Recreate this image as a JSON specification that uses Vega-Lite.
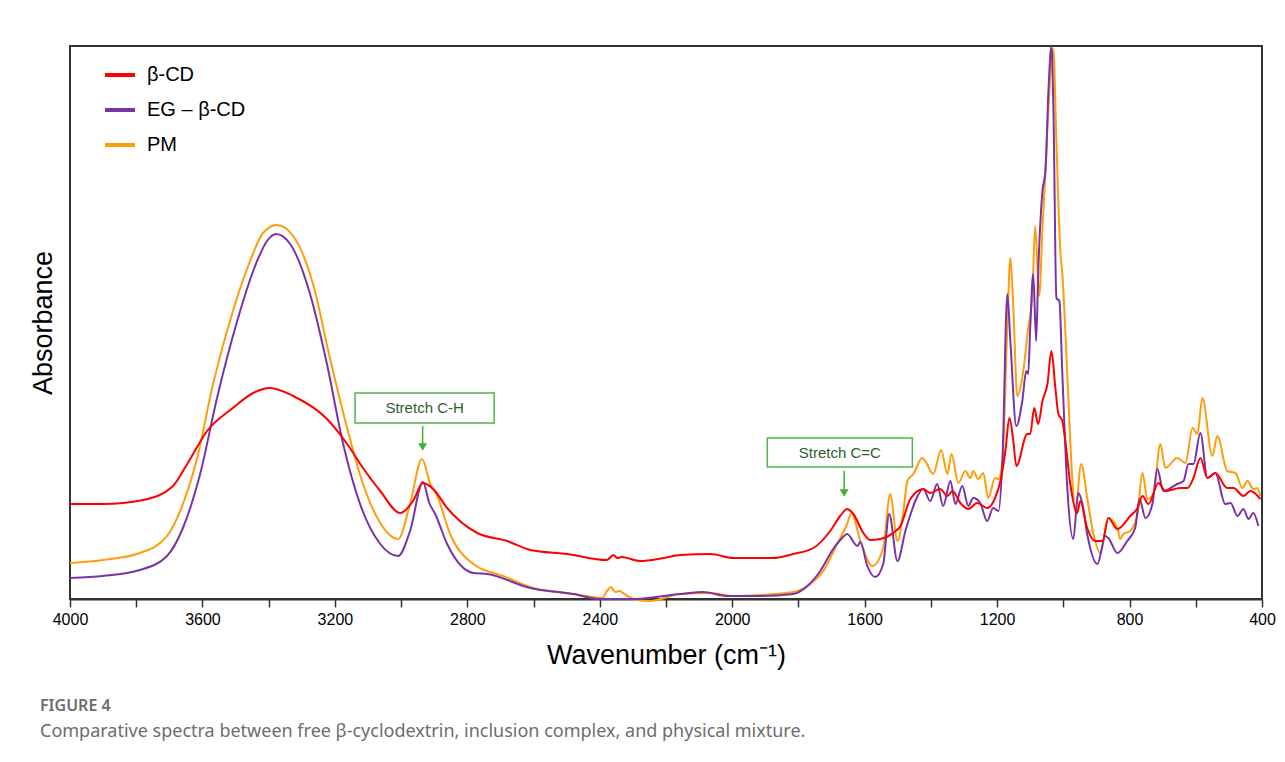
{
"$schema": "https://vega.github.io/schema/vega-lite/v6.json",
"width": 1192, "height": 553,
"padding": {"left": 29, "top": 42, "right": 22, "bottom": 10},
"background": "white",
"config": {"view": {"stroke": "#333333", "strokeWidth": 2}, "font": "Liberation Sans"},
"title": {"text": "FIGURE 4", "subtitle": "Comparative spectra between free β-cyclodextrin, inclusion complex, and physical mixture.", "orient": "bottom", "anchor": "start", "frame": "bounds", "font": "Noto Sans", "fontSize": 16, "fontWeight": 600, "color": "#6d6d6d", "subtitleFont": "Noto Sans", "subtitleFontSize": 18, "subtitleColor": "#6d6d6d", "subtitlePadding": 9, "offset": 30, "dx": 11},
"datasets": {
"spectra": [
{"sample":"PM","wavenumber":4000,"absorbance":36},{"sample":"PM","wavenumber":3900,"absorbance":39},{"sample":"PM","wavenumber":3789,"absorbance":46},{"sample":"PM","wavenumber":3707,"absorbance":63},{"sample":"PM","wavenumber":3659,"absorbance":95},{"sample":"PM","wavenumber":3616,"absorbance":141},{"sample":"PM","wavenumber":3568,"absorbance":215},{"sample":"PM","wavenumber":3508,"absorbance":288},{"sample":"PM","wavenumber":3456,"absorbance":338},{"sample":"PM","wavenumber":3417,"absorbance":366},{"sample":"PM","wavenumber":3375,"absorbance":374},{"sample":"PM","wavenumber":3326,"absorbance":363},{"sample":"PM","wavenumber":3266,"absorbance":315},{"sample":"PM","wavenumber":3215,"absorbance":241},{"sample":"PM","wavenumber":3163,"absorbance":171},{"sample":"PM","wavenumber":3115,"absorbance":115},{"sample":"PM","wavenumber":3063,"absorbance":76},{"sample":"PM","wavenumber":3009,"absorbance":60},{"sample":"PM","wavenumber":2973,"absorbance":95},{"sample":"PM","wavenumber":2937,"absorbance":140},{"sample":"PM","wavenumber":2912,"absorbance":115},{"sample":"PM","wavenumber":2891,"absorbance":103},{"sample":"PM","wavenumber":2852,"absorbance":65},{"sample":"PM","wavenumber":2782,"absorbance":35},{"sample":"PM","wavenumber":2692,"absorbance":23},{"sample":"PM","wavenumber":2601,"absorbance":11},{"sample":"PM","wavenumber":2480,"absorbance":5},{"sample":"PM","wavenumber":2393,"absorbance":1},{"sample":"PM","wavenumber":2378,"absorbance":8},{"sample":"PM","wavenumber":2366,"absorbance":12},{"sample":"PM","wavenumber":2354,"absorbance":7},{"sample":"PM","wavenumber":2341,"absorbance":8},{"sample":"PM","wavenumber":2317,"absorbance":3},{"sample":"PM","wavenumber":2287,"absorbance":-1},{"sample":"PM","wavenumber":2248,"absorbance":-2},{"sample":"PM","wavenumber":2157,"absorbance":5},{"sample":"PM","wavenumber":2066,"absorbance":6},{"sample":"PM","wavenumber":1997,"absorbance":3},{"sample":"PM","wavenumber":1915,"absorbance":4},{"sample":"PM","wavenumber":1816,"absorbance":7},{"sample":"PM","wavenumber":1764,"absorbance":15},{"sample":"PM","wavenumber":1725,"absorbance":28},{"sample":"PM","wavenumber":1683,"absorbance":55},{"sample":"PM","wavenumber":1653,"absorbance":75},{"sample":"PM","wavenumber":1640,"absorbance":86},{"sample":"PM","wavenumber":1613,"absorbance":58},{"sample":"PM","wavenumber":1577,"absorbance":33},{"sample":"PM","wavenumber":1544,"absorbance":51},{"sample":"PM","wavenumber":1523,"absorbance":105},{"sample":"PM","wavenumber":1501,"absorbance":58},{"sample":"PM","wavenumber":1483,"absorbance":88},{"sample":"PM","wavenumber":1471,"absorbance":118},{"sample":"PM","wavenumber":1453,"absorbance":125},{"sample":"PM","wavenumber":1426,"absorbance":141},{"sample":"PM","wavenumber":1417,"absorbance":138},{"sample":"PM","wavenumber":1393,"absorbance":125},{"sample":"PM","wavenumber":1369,"absorbance":149},{"sample":"PM","wavenumber":1350,"absorbance":125},{"sample":"PM","wavenumber":1338,"absorbance":145},{"sample":"PM","wavenumber":1317,"absorbance":116},{"sample":"PM","wavenumber":1296,"absorbance":128},{"sample":"PM","wavenumber":1281,"absorbance":121},{"sample":"PM","wavenumber":1272,"absorbance":128},{"sample":"PM","wavenumber":1257,"absorbance":120},{"sample":"PM","wavenumber":1242,"absorbance":126},{"sample":"PM","wavenumber":1227,"absorbance":101},{"sample":"PM","wavenumber":1206,"absorbance":121},{"sample":"PM","wavenumber":1196,"absorbance":120},{"sample":"PM","wavenumber":1184,"absorbance":138},{"sample":"PM","wavenumber":1169,"absorbance":275},{"sample":"PM","wavenumber":1160,"absorbance":341},{"sample":"PM","wavenumber":1151,"absorbance":291},{"sample":"PM","wavenumber":1139,"absorbance":203},{"sample":"PM","wavenumber":1121,"absorbance":228},{"sample":"PM","wavenumber":1106,"absorbance":271},{"sample":"PM","wavenumber":1094,"absorbance":301},{"sample":"PM","wavenumber":1085,"absorbance":373},{"sample":"PM","wavenumber":1073,"absorbance":303},{"sample":"PM","wavenumber":1063,"absorbance":371},{"sample":"PM","wavenumber":1054,"absorbance":428},{"sample":"PM","wavenumber":1045,"absorbance":491},{"sample":"PM","wavenumber":1030,"absorbance":550},{"sample":"PM","wavenumber":1021,"absorbance":458},{"sample":"PM","wavenumber":1009,"absorbance":348},{"sample":"PM","wavenumber":1003,"absorbance":325},{"sample":"PM","wavenumber":988,"absorbance":225},{"sample":"PM","wavenumber":976,"absorbance":138},{"sample":"PM","wavenumber":964,"absorbance":88},{"sample":"PM","wavenumber":946,"absorbance":135},{"sample":"PM","wavenumber":928,"absorbance":101},{"sample":"PM","wavenumber":909,"absorbance":65},{"sample":"PM","wavenumber":888,"absorbance":46},{"sample":"PM","wavenumber":864,"absorbance":81},{"sample":"PM","wavenumber":837,"absorbance":71},{"sample":"PM","wavenumber":828,"absorbance":60},{"sample":"PM","wavenumber":819,"absorbance":65},{"sample":"PM","wavenumber":798,"absorbance":68},{"sample":"PM","wavenumber":776,"absorbance":85},{"sample":"PM","wavenumber":761,"absorbance":126},{"sample":"PM","wavenumber":746,"absorbance":100},{"sample":"PM","wavenumber":728,"absorbance":105},{"sample":"PM","wavenumber":707,"absorbance":155},{"sample":"PM","wavenumber":692,"absorbance":131},{"sample":"PM","wavenumber":656,"absorbance":141},{"sample":"PM","wavenumber":631,"absorbance":136},{"sample":"PM","wavenumber":610,"absorbance":171},{"sample":"PM","wavenumber":595,"absorbance":165},{"sample":"PM","wavenumber":580,"absorbance":201},{"sample":"PM","wavenumber":550,"absorbance":143},{"sample":"PM","wavenumber":535,"absorbance":163},{"sample":"PM","wavenumber":505,"absorbance":128},{"sample":"PM","wavenumber":480,"absorbance":126},{"sample":"PM","wavenumber":459,"absorbance":111},{"sample":"PM","wavenumber":444,"absorbance":118},{"sample":"PM","wavenumber":426,"absorbance":110},{"sample":"PM","wavenumber":414,"absorbance":111},{"sample":"PM","wavenumber":405,"absorbance":103},
{"sample":"EG – β-CD","wavenumber":4000,"absorbance":21},{"sample":"EG – β-CD","wavenumber":3900,"absorbance":23},{"sample":"EG – β-CD","wavenumber":3789,"absorbance":29},{"sample":"EG – β-CD","wavenumber":3707,"absorbance":43},{"sample":"EG – β-CD","wavenumber":3659,"absorbance":71},{"sample":"EG – β-CD","wavenumber":3607,"absorbance":125},{"sample":"EG – β-CD","wavenumber":3556,"absorbance":201},{"sample":"EG – β-CD","wavenumber":3495,"absorbance":278},{"sample":"EG – β-CD","wavenumber":3435,"absorbance":338},{"sample":"EG – β-CD","wavenumber":3405,"absorbance":358},{"sample":"EG – β-CD","wavenumber":3378,"absorbance":365},{"sample":"EG – β-CD","wavenumber":3335,"absorbance":355},{"sample":"EG – β-CD","wavenumber":3275,"absorbance":305},{"sample":"EG – β-CD","wavenumber":3224,"absorbance":235},{"sample":"EG – β-CD","wavenumber":3175,"absorbance":155},{"sample":"EG – β-CD","wavenumber":3124,"absorbance":95},{"sample":"EG – β-CD","wavenumber":3063,"absorbance":55},{"sample":"EG – β-CD","wavenumber":3009,"absorbance":43},{"sample":"EG – β-CD","wavenumber":2973,"absorbance":68},{"sample":"EG – β-CD","wavenumber":2934,"absorbance":117},{"sample":"EG – β-CD","wavenumber":2915,"absorbance":96},{"sample":"EG – β-CD","wavenumber":2897,"absorbance":85},{"sample":"EG – β-CD","wavenumber":2861,"absorbance":55},{"sample":"EG – β-CD","wavenumber":2782,"absorbance":26},{"sample":"EG – β-CD","wavenumber":2740,"absorbance":25},{"sample":"EG – β-CD","wavenumber":2610,"absorbance":11},{"sample":"EG – β-CD","wavenumber":2480,"absorbance":5},{"sample":"EG – β-CD","wavenumber":2399,"absorbance":0},{"sample":"EG – β-CD","wavenumber":2308,"absorbance":0},{"sample":"EG – β-CD","wavenumber":2157,"absorbance":5},{"sample":"EG – β-CD","wavenumber":2088,"absorbance":7},{"sample":"EG – β-CD","wavenumber":2015,"absorbance":3},{"sample":"EG – β-CD","wavenumber":1915,"absorbance":3},{"sample":"EG – β-CD","wavenumber":1816,"absorbance":5},{"sample":"EG – β-CD","wavenumber":1773,"absorbance":13},{"sample":"EG – β-CD","wavenumber":1734,"absorbance":28},{"sample":"EG – β-CD","wavenumber":1695,"absorbance":50},{"sample":"EG – β-CD","wavenumber":1668,"absorbance":61},{"sample":"EG – β-CD","wavenumber":1653,"absorbance":65},{"sample":"EG – β-CD","wavenumber":1622,"absorbance":53},{"sample":"EG – β-CD","wavenumber":1613,"absorbance":57},{"sample":"EG – β-CD","wavenumber":1592,"absorbance":33},{"sample":"EG – β-CD","wavenumber":1568,"absorbance":22},{"sample":"EG – β-CD","wavenumber":1544,"absorbance":35},{"sample":"EG – β-CD","wavenumber":1526,"absorbance":85},{"sample":"EG – β-CD","wavenumber":1501,"absorbance":38},{"sample":"EG – β-CD","wavenumber":1477,"absorbance":68},{"sample":"EG – β-CD","wavenumber":1456,"absorbance":90},{"sample":"EG – β-CD","wavenumber":1447,"absorbance":98},{"sample":"EG – β-CD","wavenumber":1423,"absorbance":110},{"sample":"EG – β-CD","wavenumber":1402,"absorbance":98},{"sample":"EG – β-CD","wavenumber":1381,"absorbance":115},{"sample":"EG – β-CD","wavenumber":1363,"absorbance":93},{"sample":"EG – β-CD","wavenumber":1341,"absorbance":118},{"sample":"EG – β-CD","wavenumber":1326,"absorbance":95},{"sample":"EG – β-CD","wavenumber":1305,"absorbance":113},{"sample":"EG – β-CD","wavenumber":1287,"absorbance":93},{"sample":"EG – β-CD","wavenumber":1272,"absorbance":101},{"sample":"EG – β-CD","wavenumber":1251,"absorbance":96},{"sample":"EG – β-CD","wavenumber":1230,"absorbance":78},{"sample":"EG – β-CD","wavenumber":1212,"absorbance":91},{"sample":"EG – β-CD","wavenumber":1196,"absorbance":88},{"sample":"EG – β-CD","wavenumber":1184,"absorbance":138},{"sample":"EG – β-CD","wavenumber":1169,"absorbance":305},{"sample":"EG – β-CD","wavenumber":1160,"absorbance":258},{"sample":"EG – β-CD","wavenumber":1142,"absorbance":173},{"sample":"EG – β-CD","wavenumber":1124,"absorbance":198},{"sample":"EG – β-CD","wavenumber":1112,"absorbance":228},{"sample":"EG – β-CD","wavenumber":1106,"absorbance":225},{"sample":"EG – β-CD","wavenumber":1100,"absorbance":271},{"sample":"EG – β-CD","wavenumber":1091,"absorbance":325},{"sample":"EG – β-CD","wavenumber":1082,"absorbance":258},{"sample":"EG – β-CD","wavenumber":1076,"absorbance":325},{"sample":"EG – β-CD","wavenumber":1063,"absorbance":408},{"sample":"EG – β-CD","wavenumber":1054,"absorbance":428},{"sample":"EG – β-CD","wavenumber":1045,"absorbance":508},{"sample":"EG – β-CD","wavenumber":1036,"absorbance":553},{"sample":"EG – β-CD","wavenumber":1030,"absorbance":491},{"sample":"EG – β-CD","wavenumber":1021,"absorbance":301},{"sample":"EG – β-CD","wavenumber":1012,"absorbance":298},{"sample":"EG – β-CD","wavenumber":1003,"absorbance":225},{"sample":"EG – β-CD","wavenumber":988,"absorbance":111},{"sample":"EG – β-CD","wavenumber":970,"absorbance":60},{"sample":"EG – β-CD","wavenumber":955,"absorbance":106},{"sample":"EG – β-CD","wavenumber":943,"absorbance":96},{"sample":"EG – β-CD","wavenumber":928,"absorbance":65},{"sample":"EG – β-CD","wavenumber":897,"absorbance":35},{"sample":"EG – β-CD","wavenumber":873,"absorbance":63},{"sample":"EG – β-CD","wavenumber":864,"absorbance":61},{"sample":"EG – β-CD","wavenumber":837,"absorbance":46},{"sample":"EG – β-CD","wavenumber":807,"absorbance":58},{"sample":"EG – β-CD","wavenumber":783,"absorbance":71},{"sample":"EG – β-CD","wavenumber":770,"absorbance":100},{"sample":"EG – β-CD","wavenumber":752,"absorbance":81},{"sample":"EG – β-CD","wavenumber":731,"absorbance":95},{"sample":"EG – β-CD","wavenumber":716,"absorbance":130},{"sample":"EG – β-CD","wavenumber":698,"absorbance":108},{"sample":"EG – β-CD","wavenumber":656,"absorbance":115},{"sample":"EG – β-CD","wavenumber":637,"absorbance":118},{"sample":"EG – β-CD","wavenumber":622,"absorbance":135},{"sample":"EG – β-CD","wavenumber":607,"absorbance":135},{"sample":"EG – β-CD","wavenumber":586,"absorbance":166},{"sample":"EG – β-CD","wavenumber":565,"absorbance":121},{"sample":"EG – β-CD","wavenumber":541,"absorbance":126},{"sample":"EG – β-CD","wavenumber":511,"absorbance":95},{"sample":"EG – β-CD","wavenumber":495,"absorbance":96},{"sample":"EG – β-CD","wavenumber":474,"absorbance":83},{"sample":"EG – β-CD","wavenumber":456,"absorbance":90},{"sample":"EG – β-CD","wavenumber":441,"absorbance":80},{"sample":"EG – β-CD","wavenumber":426,"absorbance":86},{"sample":"EG – β-CD","wavenumber":411,"absorbance":73},
{"sample":"β-CD","wavenumber":4000,"absorbance":95},{"sample":"β-CD","wavenumber":3900,"absorbance":95},{"sample":"β-CD","wavenumber":3779,"absorbance":99},{"sample":"β-CD","wavenumber":3692,"absorbance":112},{"sample":"β-CD","wavenumber":3646,"absorbance":135},{"sample":"β-CD","wavenumber":3586,"absorbance":168},{"sample":"β-CD","wavenumber":3508,"absorbance":191},{"sample":"β-CD","wavenumber":3447,"absorbance":206},{"sample":"β-CD","wavenumber":3396,"absorbance":211},{"sample":"β-CD","wavenumber":3326,"absorbance":203},{"sample":"β-CD","wavenumber":3224,"absorbance":180},{"sample":"β-CD","wavenumber":3163,"absorbance":155},{"sample":"β-CD","wavenumber":3115,"absorbance":131},{"sample":"β-CD","wavenumber":3063,"absorbance":108},{"sample":"β-CD","wavenumber":3003,"absorbance":86},{"sample":"β-CD","wavenumber":2964,"absorbance":98},{"sample":"β-CD","wavenumber":2934,"absorbance":116},{"sample":"β-CD","wavenumber":2903,"absorbance":110},{"sample":"β-CD","wavenumber":2861,"absorbance":91},{"sample":"β-CD","wavenumber":2770,"absorbance":66},{"sample":"β-CD","wavenumber":2680,"absorbance":58},{"sample":"β-CD","wavenumber":2610,"absorbance":49},{"sample":"β-CD","wavenumber":2498,"absorbance":45},{"sample":"β-CD","wavenumber":2378,"absorbance":39},{"sample":"β-CD","wavenumber":2359,"absorbance":44},{"sample":"β-CD","wavenumber":2347,"absorbance":41},{"sample":"β-CD","wavenumber":2335,"absorbance":42},{"sample":"β-CD","wavenumber":2278,"absorbance":38},{"sample":"β-CD","wavenumber":2208,"absorbance":41},{"sample":"β-CD","wavenumber":2157,"absorbance":44},{"sample":"β-CD","wavenumber":2066,"absorbance":45},{"sample":"β-CD","wavenumber":1997,"absorbance":41},{"sample":"β-CD","wavenumber":1876,"absorbance":41},{"sample":"β-CD","wavenumber":1816,"absorbance":45},{"sample":"β-CD","wavenumber":1755,"absorbance":51},{"sample":"β-CD","wavenumber":1704,"absorbance":68},{"sample":"β-CD","wavenumber":1674,"absorbance":83},{"sample":"β-CD","wavenumber":1653,"absorbance":90},{"sample":"β-CD","wavenumber":1634,"absorbance":85},{"sample":"β-CD","wavenumber":1604,"absorbance":66},{"sample":"β-CD","wavenumber":1583,"absorbance":59},{"sample":"β-CD","wavenumber":1553,"absorbance":60},{"sample":"β-CD","wavenumber":1514,"absorbance":66},{"sample":"β-CD","wavenumber":1492,"absorbance":73},{"sample":"β-CD","wavenumber":1462,"absorbance":100},{"sample":"β-CD","wavenumber":1423,"absorbance":110},{"sample":"β-CD","wavenumber":1402,"absorbance":106},{"sample":"β-CD","wavenumber":1372,"absorbance":110},{"sample":"β-CD","wavenumber":1350,"absorbance":103},{"sample":"β-CD","wavenumber":1335,"absorbance":108},{"sample":"β-CD","wavenumber":1311,"absorbance":96},{"sample":"β-CD","wavenumber":1287,"absorbance":90},{"sample":"β-CD","wavenumber":1260,"absorbance":96},{"sample":"β-CD","wavenumber":1230,"absorbance":91},{"sample":"β-CD","wavenumber":1206,"absorbance":101},{"sample":"β-CD","wavenumber":1190,"absorbance":118},{"sample":"β-CD","wavenumber":1175,"absorbance":148},{"sample":"β-CD","wavenumber":1163,"absorbance":181},{"sample":"β-CD","wavenumber":1151,"absorbance":158},{"sample":"β-CD","wavenumber":1142,"absorbance":133},{"sample":"β-CD","wavenumber":1109,"absorbance":165},{"sample":"β-CD","wavenumber":1100,"absorbance":165},{"sample":"β-CD","wavenumber":1088,"absorbance":191},{"sample":"β-CD","wavenumber":1076,"absorbance":175},{"sample":"β-CD","wavenumber":1063,"absorbance":198},{"sample":"β-CD","wavenumber":1048,"absorbance":215},{"sample":"β-CD","wavenumber":1036,"absorbance":248},{"sample":"β-CD","wavenumber":1024,"absorbance":211},{"sample":"β-CD","wavenumber":1015,"absorbance":185},{"sample":"β-CD","wavenumber":1003,"absorbance":178},{"sample":"β-CD","wavenumber":994,"absorbance":158},{"sample":"β-CD","wavenumber":979,"absorbance":115},{"sample":"β-CD","wavenumber":958,"absorbance":86},{"sample":"β-CD","wavenumber":949,"absorbance":98},{"sample":"β-CD","wavenumber":928,"absorbance":71},{"sample":"β-CD","wavenumber":903,"absorbance":58},{"sample":"β-CD","wavenumber":882,"absorbance":58},{"sample":"β-CD","wavenumber":864,"absorbance":81},{"sample":"β-CD","wavenumber":837,"absorbance":70},{"sample":"β-CD","wavenumber":798,"absorbance":83},{"sample":"β-CD","wavenumber":776,"absorbance":91},{"sample":"β-CD","wavenumber":761,"absorbance":103},{"sample":"β-CD","wavenumber":743,"absorbance":95},{"sample":"β-CD","wavenumber":713,"absorbance":116},{"sample":"β-CD","wavenumber":692,"absorbance":108},{"sample":"β-CD","wavenumber":647,"absorbance":111},{"sample":"β-CD","wavenumber":625,"absorbance":111},{"sample":"β-CD","wavenumber":607,"absorbance":121},{"sample":"β-CD","wavenumber":586,"absorbance":141},{"sample":"β-CD","wavenumber":565,"absorbance":121},{"sample":"β-CD","wavenumber":541,"absorbance":126},{"sample":"β-CD","wavenumber":505,"absorbance":111},{"sample":"β-CD","wavenumber":486,"absorbance":111},{"sample":"β-CD","wavenumber":456,"absorbance":103},{"sample":"β-CD","wavenumber":435,"absorbance":108},{"sample":"β-CD","wavenumber":405,"absorbance":100}
],
"notes": [
{"label":"Stretch C-H","left":3139,"right":2719,"top":206,"bottom":176,"tx":2929,"ty":191,"ax":2935,"ay1":173,"ay2":153,"hy":152},
{"label":"Stretch C=C","left":1894,"right":1456,"top":161,"bottom":132,"tx":1675,"ty":146.5,"ax":1662,"ay1":128,"ay2":107,"hy":106}
]
},
"layer": [
{"data": {"name": "spectra"},
 "mark": {"type": "line", "interpolate": "monotone", "strokeWidth": 2},
 "encoding": {
  "x": {"field": "wavenumber", "type": "quantitative", "title": "Wavenumber (cm⁻¹)",
        "scale": {"domain": [400, 4000], "reverse": true, "nice": false, "zero": false},
        "axis": {"values": [4000,3800,3600,3400,3200,3000,2800,2600,2400,2200,2000,1800,1600,1400,1200,1000,800,600,400], "format": "d", "labelExpr": "datum.value % 400 === 0 ? datum.label : ''", "grid": false, "domainColor": "#333333", "domainWidth": 2, "tickColor": "#333333", "tickSize": 8, "tickWidth": 1.5, "labelFont": "Liberation Sans", "labelFontSize": 16, "labelColor": "#000000", "labelPadding": 4, "labelFlush": false, "labelOverlap": false, "titleFont": "Liberation Sans", "titleFontSize": 27, "titleFontWeight": "normal", "titleColor": "#000000", "titlePadding": 15}},
  "y": {"field": "absorbance", "type": "quantitative", "title": "Absorbance",
        "scale": {"domain": [0, 553], "nice": false, "zero": false},
        "axis": {"labels": false, "ticks": false, "domain": false, "grid": false, "titleFont": "Liberation Sans", "titleFontSize": 27, "titleFontWeight": "normal", "titleColor": "#000000", "titlePadding": 13}},
  "color": {"field": "sample", "type": "nominal",
        "scale": {"domain": ["β-CD", "EG – β-CD", "PM"], "range": ["#ff0000", "#7a33a6", "#ff9d0a"]},
        "legend": {"orient": "none", "legendX": 33, "legendY": 12, "title": null, "symbolType": "stroke", "symbolSize": 900, "symbolStrokeWidth": 4, "labelFont": "Liberation Sans", "labelFontSize": 20, "labelColor": "#000000", "rowPadding": 8, "labelOffset": 10}}
 }},
{"data": {"name": "notes"},
 "mark": {"type": "rect", "fill": "#ffffff", "stroke": "#4cb64a", "strokeWidth": 1.5},
 "encoding": {
  "x": {"field": "left", "type": "quantitative", "title": "Wavenumber (cm⁻¹)"}, "x2": {"field": "right"},
  "y": {"field": "top", "type": "quantitative", "title": "Absorbance"}, "y2": {"field": "bottom"}
 }},
{"data": {"name": "notes"},
 "mark": {"type": "rule", "stroke": "#3fae3b", "strokeWidth": 1.5},
 "encoding": {
  "x": {"field": "ax", "type": "quantitative", "title": "Wavenumber (cm⁻¹)"},
  "y": {"field": "ay1", "type": "quantitative", "title": "Absorbance"}, "y2": {"field": "ay2"}
 }},
{"data": {"name": "notes"},
 "mark": {"type": "point", "shape": "triangle-down", "filled": true, "size": 80, "color": "#3fae3b", "opacity": 1},
 "encoding": {
  "x": {"field": "ax", "type": "quantitative", "title": "Wavenumber (cm⁻¹)"},
  "y": {"field": "hy", "type": "quantitative", "title": "Absorbance"}
 }},
{"data": {"name": "notes"},
 "mark": {"type": "text", "font": "Liberation Sans", "fontSize": 15, "color": "#2f5e2f", "align": "center", "baseline": "middle"},
 "encoding": {
  "x": {"field": "tx", "type": "quantitative", "title": "Wavenumber (cm⁻¹)"},
  "y": {"field": "ty", "type": "quantitative", "title": "Absorbance"},
  "text": {"field": "label"}
 }}
]
}
